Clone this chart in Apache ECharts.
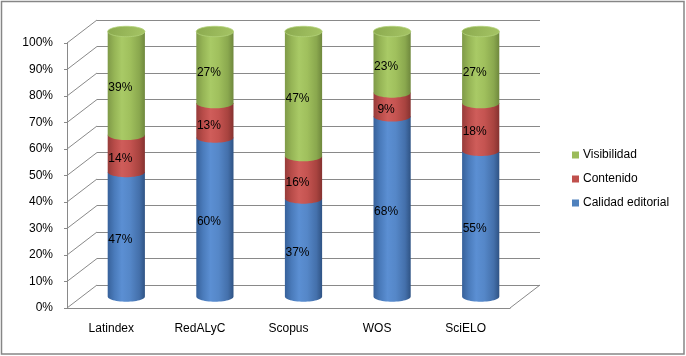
<!DOCTYPE html>
<html><head><meta charset="utf-8">
<script src="https://cdn.jsdelivr.net/npm/echarts@6/dist/echarts.min.js"></script>
<style>html,body{margin:0;padding:0;background:#fff}#c{width:686px;height:356px}</style>
</head><body><div id="c"></div>
<script>
const categories = ['Latindex', 'RedALyC', 'Scopus', 'WOS', 'SciELO'];
const calidadEditorial = [47, 60, 37, 68, 55];
const contenido = [14, 13, 16, 9, 18];
const visibilidad = [39, 27, 47, 23, 27];
const yTicks = [0, 10, 20, 30, 40, 50, 60, 70, 80, 90, 100];

const DX = 30, DY = -23;           // depth offset of the 3D wall
const GRID = '#898989';
const FONT = '12px "Liberation Sans", Arial, sans-serif';
const N = 28;

const palettes = {
  blue:  {base: '#4F81BD', stops: ['#37619a', '#4a7bbb', '#5b8fd3', '#5587c8', '#4470ab', '#2f5384']},
  red:   {base: '#C0504D', stops: ['#973c3a', '#b84c49', '#cf5d5a', '#c55451', '#a8433f', '#853230']},
  green: {base: '#9BBB59', stops: ['#7f9a48', '#96b556', '#a9ca66', '#a0c05d', '#8aa84e', '#6f883d']}
};
function grad(stops) {
  const pos = [0, 0.18, 0.38, 0.6, 0.85, 1];
  return {type: 'linear', x: 0, y: 0, x2: 1, y2: 0, global: false,
    colorStops: stops.map((c, k) => ({offset: pos[k], color: c}))};
}

function cumulative(arrs) {
  return categories.map((_, i) => arrs.reduce((s, a) => s + a[i], 0));
}
const baseCal = categories.map(() => 0);
const baseCon = cumulative([calidadEditorial]);
const baseVis = cumulative([calidadEditorial, contenido]);

function segSeries(name, values, bases, pal, isTop) {
  return {
    type: 'custom', name: name, xAxisIndex: 0, yAxisIndex: 0, silent: true, clip: false,
    itemStyle: {color: pal.base},
    data: values.map((v, i) => [i, bases[i], v]),
    encode: {x: 0, y: 1},
    renderItem: function (params, api) {
      const i = api.value(0), b = api.value(1), v = api.value(2);
      const band = api.size([1, 0])[0];
      const pB = api.coord([i, b]);
      const pT = api.coord([i, b + v]);
      const cx = pB[0] + DX / 2;
      const rx = band * 0.21, ry = rx * 0.28;
      const yB = pB[1] + DY / 2, yT = pT[1] + DY / 2;
      const pts = [[cx - rx, yT], [cx - rx, yB]];
      for (let k = 1; k < N; k++) {
        const a = Math.PI - Math.PI * k / N;
        pts.push([cx + rx * Math.cos(a), yB + ry * Math.sin(a)]);
      }
      pts.push([cx + rx, yB], [cx + rx, yT]);
      const children = [{type: 'polygon', shape: {points: pts}, style: {fill: grad(pal.stops)}}];
      if (isTop) {
        const ep = [];
        for (let k = 0; k < 2 * N; k++) {
          const a = Math.PI * 2 * k / (2 * N);
          ep.push([cx + rx * Math.cos(a), yT + ry * Math.sin(a)]);
        }
        children.push({type: 'polygon', shape: {points: ep},
          style: {fill: {type: 'linear', x: 0, y: 0, x2: 1, y2: 1, colorStops: [
            {offset: 0, color: '#8aa94e'}, {offset: 1, color: '#a6c565'}]},
            stroke: '#b3d27a', lineWidth: 0.8}});
      }
      children.push({type: 'text', z2: 20, style: {
        text: v + '%', x: cx - 6, y: (yB + yT) / 2 + 5,
        align: 'center', verticalAlign: 'middle', font: FONT, fill: '#000'}});
      return {type: 'group', children: children};
    }
  };
}

const frameSeries = {
  type: 'custom', name: 'frame', xAxisIndex: 0, yAxisIndex: 0, silent: true, clip: false,
  data: yTicks.map(t => [0, t]),
  encode: {x: 0, y: 1},
  renderItem: function (params, api) {
    const t = api.value(1);
    const band = api.size([1, 0])[0];
    const p = api.coord([0, t]);
    const x0 = p[0] - band / 2;
    const children = [{type: 'line', shape: {x1: x0, y1: p[1], x2: x0 + DX, y2: p[1] + DY},
      style: {stroke: GRID, lineWidth: 1}}];
    if (t === 0) {
      const x1 = x0 + band * categories.length;
      children.push({type: 'line', shape: {x1: x1, y1: p[1], x2: x1 + DX, y2: p[1] + DY},
        style: {stroke: GRID, lineWidth: 1}});
    }
    return {type: 'group', children: children};
  }
};

const chart = echarts.init(document.getElementById('c'), null, {renderer: 'canvas'});
chart.setOption({
  animation: false,
  backgroundColor: '#fff',
  textStyle: {fontFamily: '"Liberation Sans", Arial, sans-serif'},
  graphic: [{type: 'rect', shape: {x: 1.5, y: 1.5, width: 682.5, height: 352.5},
    style: {fill: 'none', stroke: '#868686', lineWidth: 1.5}, silent: true, z: 100}],
  legend: {
    orient: 'vertical', left: 572, top: 149, padding: 0, itemWidth: 7, itemHeight: 7, itemGap: 12,
    icon: 'rect', data: ['Visibilidad', 'Contenido', 'Calidad editorial'],
    textStyle: {fontSize: 12, color: '#000', fontFamily: '"Liberation Sans", Arial, sans-serif', padding: [0, 0, 0, -1]}
  },
  grid: [
    {left: 67, top: 43, right: 176, bottom: 48, containLabel: false},
    {left: 97, top: 20, right: 146, bottom: 71, containLabel: false}
  ],
  xAxis: [
    {type: 'category', gridIndex: 0, data: categories,
      axisLine: {lineStyle: {color: GRID}},
      axisTick: {length: 5, lineStyle: {color: GRID}},
      axisLabel: {color: '#000', fontSize: 12, margin: 15}},
    {type: 'category', gridIndex: 1, data: categories, show: false}
  ],
  yAxis: [
    {type: 'value', gridIndex: 0, min: 0, max: 100, interval: 10,
      axisLine: {show: true, lineStyle: {color: GRID}},
      axisTick: {show: true, length: 3, lineStyle: {color: GRID}},
      splitLine: {show: false},
      axisLabel: {formatter: '{value}%', color: '#000', fontSize: 12, margin: 14}},
    {type: 'value', gridIndex: 1, min: 0, max: 100, interval: 10,
      axisLine: {show: false}, axisTick: {show: false}, axisLabel: {show: false},
      splitLine: {show: true, lineStyle: {color: GRID, width: 1}}}
  ],
  series: [
    frameSeries,
    segSeries('Calidad editorial', calidadEditorial, baseCal, palettes.blue, false),
    segSeries('Contenido', contenido, baseCon, palettes.red, false),
    segSeries('Visibilidad', visibilidad, baseVis, palettes.green, true)
  ]
});
</script>
</body></html>
